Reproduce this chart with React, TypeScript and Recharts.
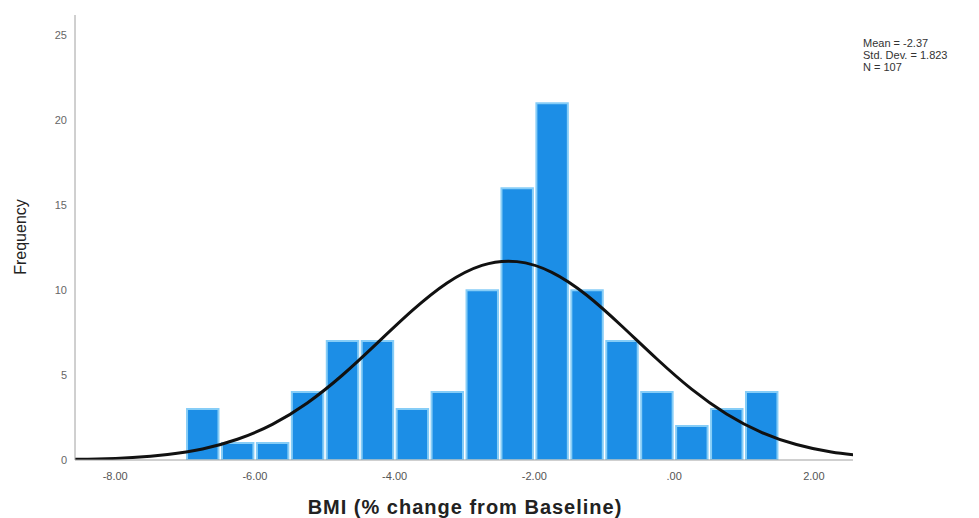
import { ComposedChart, Bar, Line, XAxis, YAxis } from "recharts";

// histogram bins (width 0.5), given by bin midpoints
const binMid = [-6.75, -6.25, -5.75, -5.25, -4.75, -4.25, -3.75, -3.25, -2.75, -2.25, -1.75, -1.25, -0.75, -0.25, 0.25, 0.75, 1.25];
const binCount = [3, 1, 1, 4, 7, 7, 3, 4, 10, 16, 21, 10, 7, 4, 2, 3, 4];

// normal curve, on the same 0.5 grid as the bin midpoints
const curveX = [-8.75, -8.25, -7.75, -7.25, -6.75, -6.25, -5.75, -5.25, -4.75, -4.25, -3.75, -3.25, -2.75, -2.25, -1.75, -1.25, -0.75, -0.25, 0.25, 0.75, 1.25, 1.75, 2.25, 2.75];
const curveY = [0.03, 0.06, 0.15, 0.33, 0.65, 1.22, 2.1, 3.36, 4.99, 6.88, 8.79, 10.42, 11.46, 11.68, 11.05, 9.7, 7.89, 5.96, 4.17, 2.71, 1.63, 0.91, 0.47, 0.23];

const xTicks = [-8, -6, -4, -2, 0, 2];
const yTicks = [0, 5, 10, 15, 20, 25];
const statLines = ["Mean = -2.37", "Std. Dev. = 1.823", "N = 107"];

const X_MIN = -8.575;
const X_MAX = 2.56;
const BIN_W = 0.5;

const W = 979;
const H = 518;
const MARGIN = { top: 15, right: 126, bottom: 28, left: 35 };
const Y_AXIS_W = 40;
const PLOT_W = W - MARGIN.left - MARGIN.right - Y_AXIS_W;

const FONT = "'Liberation Sans', Arial, sans-serif";

type Row = { x: number; count?: number; fit: number };

const rows: Row[] = curveX.map((x, i) => {
  const b = binMid.indexOf(x);
  return b >= 0 ? { x, count: binCount[b], fit: curveY[i] } : { x, fit: curveY[i] };
});

const fmtX = (v: number) => (v === 0 ? ".00" : v.toFixed(2));

export default function App() {
  const barSize = (PLOT_W * BIN_W) / (X_MAX - X_MIN);
  return (
    <div style={{ position: "absolute", left: 0, top: 0, width: W, height: H, background: "#fff", fontFamily: FONT }}>
      <ComposedChart width={W} height={H} data={rows} margin={MARGIN}>
        <XAxis
          dataKey="x"
          type="number"
          domain={[X_MIN, X_MAX]}
          ticks={xTicks}
          allowDataOverflow
          tickFormatter={fmtX}
          tickLine={false}
          tickMargin={6}
          height={30}
          axisLine={{ stroke: "#a0a0a0" }}
          tick={{ fill: "#555", fontSize: 11, fontFamily: FONT }}
        />
        <YAxis
          type="number"
          domain={[0, 26.2]}
          ticks={yTicks}
          allowDataOverflow
          width={Y_AXIS_W}
          tickLine={false}
          axisLine={{ stroke: "#a0a0a0" }}
          tick={{ fill: "#666", fontSize: 11, fontFamily: FONT }}
        />
        <Bar dataKey="count" barSize={barSize} fill="#1c8ee6" stroke="#86cdf7" strokeWidth={2} isAnimationActive={false} />
        <Line
          dataKey="fit"
          type="natural"
          stroke="#111"
          strokeWidth={3}
          dot={false}
          activeDot={false}
          isAnimationActive={false}
        />
      </ComposedChart>
      <div
        style={{
          position: "absolute",
          left: 21,
          top: 237,
          transform: "translate(-50%, -50%) rotate(-90deg)",
          fontSize: 16,
          color: "#222",
          whiteSpace: "nowrap",
        }}
      >
        Frequency
      </div>
      <div
        style={{
          position: "absolute",
          left: 465,
          top: 507,
          transform: "translate(-50%, -50%)",
          fontSize: 20,
          letterSpacing: 1,
          fontWeight: "bold",
          color: "#222",
          whiteSpace: "nowrap",
        }}
      >
        BMI (% change from Baseline)
      </div>
      <div style={{ position: "absolute", left: 863, top: 37, fontSize: 11, lineHeight: "12px", color: "#333" }}>
        {statLines.map((s) => (
          <div key={s}>{s}</div>
        ))}
      </div>
    </div>
  );
}
